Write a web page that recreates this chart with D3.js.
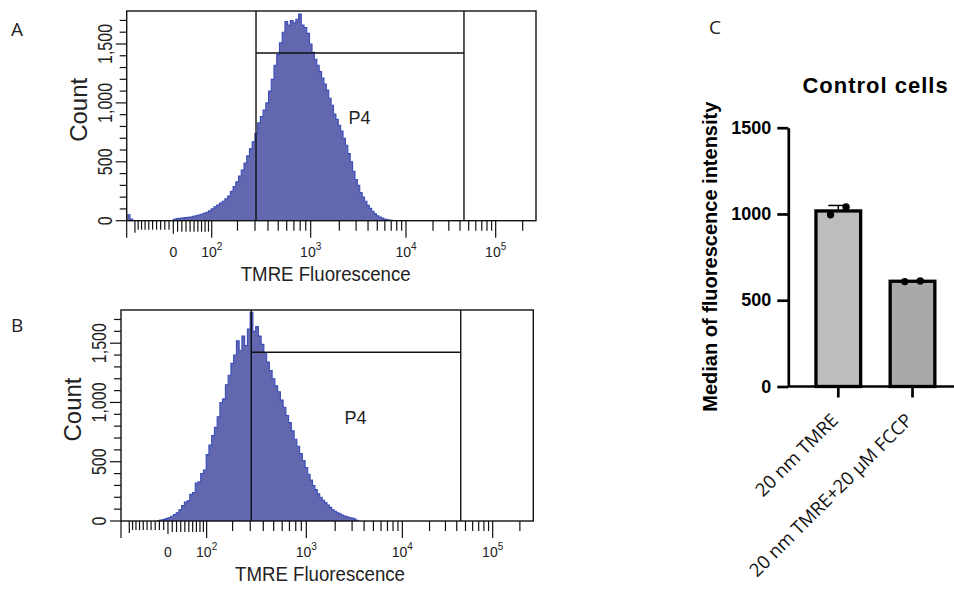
<!DOCTYPE html>
<html><head><meta charset="utf-8">
<script src="https://cdn.jsdelivr.net/npm/d3@7"></script>
<style>
body{margin:0;background:#fff;}
svg{display:block;}
</style></head><body>
<svg id="c" width="954" height="589"></svg>
<script>
// ---------------- DATA ----------------
// Histograms: counts per bin, bins evenly spaced in display (biexponential) units
const histStep = 0.025;          // display decades per bin
const histAStart = -0.425;       // display units of first bin (panel A)
const histACounts = [50,15,0,0,0,0,0,0,0,0,0,0,0,0,0,0,0,
  12,18,20,22,26,28,32,38,42,48,55,62,72,85,100,118,133,150,165,185,
  210,250,290,330,380,430,490,550,610,670,740,830,885,940,1000,1100,1200,1320,1410,1510,
  1600,1690,1660,1700,1680,1710,1755,1660,1640,1590,1500,1430,1370,1320,1265,1210,1160,1110,
  1040,980,905,860,810,760,700,640,570,500,420,350,300,240,200,165,130,105,80,58,42,30,22,15,10,6,3];
const histBStart = -0.1;         // display units of first bin (panel B)
const histBCounts = [3,8,12,20,28,40,55,70,95,130,160,170,225,240,320,330,400,430,560,640,720,790,
  880,1000,1030,1150,1230,1330,1400,1520,1440,1560,1480,1620,1760,1600,1640,1560,1490,1420,1340,1270,
  1200,1140,1090,1020,960,890,830,760,690,630,570,510,450,395,345,300,265,230,200,175,155,135,115,95,
  82,70,60,50,42,35,30,25,18,6];
const countMax = 1780;
const countMajorTicks = [0, 500, 1000, 1500];
const countMinorStep = 100;
const fluoAnchors = [0, 100, 1000, 10000, 100000];       // values with labels
const fluoAnchorLabels = [["0",""],["10","2"],["10","3"],["10","4"],["10","5"]];
const gate = {low: 307, high: 44300, count: 1424, name: "P4"};
const gateLabelAt = {value: 2500, count: 820};
const histXLabel = "TMRE Fluorescence";
const histYLabel = "Count";

// Bar chart (panel C)
const barCats = ["20 nm TMRE", "20 nm TMRE+20 μM FCCP"];
const barReps = [[995, 1040], [608, 612]];
const barTicks = [0, 500, 1000, 1500];
const barTitle = "Control cells";
const barYLabel = "Median of fluorescence intensity";
const barFills = ["#bdbdbd", "#a9a9aa"];

// ---------------- DRAW ----------------
const svg = d3.select("#c");
const FACS_FONT = "'Liberation Sans', Arial, sans-serif";
const asinhC = 110;
const disp = v => Math.asinh(v / asinhC) / Math.LN10;
const anchorFrac = [0.1139, 0.2077, 0.4495, 0.6824, 0.9015];

function histPanel(p, start, counts, id) {
  const g = svg.append("g").attr("transform", `translate(${p.left},${p.top})`);
  const x = d3.scaleLinear().domain(fluoAnchors.map(disp)).range(anchorFrac.map(f => f * p.w));
  const y = d3.scaleLinear().domain([0, countMax]).range([p.h, 0]);

  g.append("clipPath").attr("id", id).append("rect").attr("width", p.w).attr("height", p.h);

  const pts = counts.map((c, i) => ({t: start + i * histStep, c}));
  pts.push({t: start + counts.length * histStep, c: 0});
  const area = d3.area().curve(d3.curveStepAfter).x(d => x(d.t)).y0(y(0)).y1(d => y(d.c));
  const line = d3.line().curve(d3.curveStepAfter).x(d => x(d.t)).y(d => y(d.c));
  const hg = g.append("g").attr("clip-path", `url(#${id})`);
  hg.append("path").datum(pts).attr("d", area).attr("fill", "#6267af");
  hg.append("path").datum(pts).attr("d", line).attr("fill", "none")
    .attr("stroke", "#3a4cba").attr("stroke-width", 1.1);

  // gate
  const gx0 = x(disp(gate.low)), gx1 = x(disp(gate.high)), gy = y(gate.count);
  const gg = g.append("g").attr("stroke", "#111").attr("stroke-width", 1.4);
  gg.append("line").attr("x1", gx0).attr("x2", gx0).attr("y1", 0).attr("y2", p.h);
  gg.append("line").attr("x1", gx1).attr("x2", gx1).attr("y1", 0).attr("y2", p.h);
  gg.append("line").attr("x1", gx0).attr("x2", gx1).attr("y1", gy).attr("y2", gy);
  g.append("text").attr("x", x(disp(gateLabelAt.value))).attr("y", y(gateLabelAt.count))
    .attr("font-family", FACS_FONT).attr("font-size", 18).attr("fill", "#222").text(gate.name);

  // frame
  g.append("rect").attr("width", p.w).attr("height", p.h).attr("fill", "none")
    .attr("stroke", "#111").attr("stroke-width", 1.4);

  // x ticks
  const tk = [];
  d3.range(-100, 0, 10).forEach(v => tk.push({v, len: v === -100 ? 12 : 9}));
  d3.range(10, 100, 10).forEach(v => tk.push({v, len: 11}));
  tk.push({v: 0, len: 13});
  [100, 1000, 10000, 100000].forEach(d => {
    tk.push({v: d, len: 17});
    d3.range(2, 10).forEach(k => { if (k * d <= 200000) tk.push({v: k * d, len: 10}); });
  });
  const tg = g.append("g").attr("stroke", "#111").attr("stroke-width", 1.2);
  tg.selectAll("line.t").data(tk.filter(d => x(disp(d.v)) >= 0 && x(disp(d.v)) <= p.w)).join("line")
    .attr("x1", d => x(disp(d.v))).attr("x2", d => x(disp(d.v)))
    .attr("y1", p.h).attr("y2", d => p.h + d.len);
  tg.append("line").attr("x1", 0).attr("x2", 0).attr("y1", p.h).attr("y2", p.h + 17);

  const xl = g.append("g").attr("font-family", FACS_FONT).attr("fill", "#222").attr("text-anchor", "middle");
  fluoAnchors.forEach((v, i) => {
    const t = xl.append("text").attr("x", x(disp(v))).attr("y", p.h + 36).attr("font-size", 14);
    t.append("tspan").text(fluoAnchorLabels[i][0]);
    if (fluoAnchorLabels[i][1]) t.append("tspan").attr("font-size", 10).attr("dy", -7).text(fluoAnchorLabels[i][1]);
  });
  g.append("text").attr("x", 199).attr("y", p.h + 60).attr("text-anchor", "middle")
    .attr("font-family", FACS_FONT).attr("font-size", 20).attr("fill", "#222")
    .attr("textLength", 170).attr("lengthAdjust", "spacingAndGlyphs").text(histXLabel);

  // y ticks
  const yg = g.append("g").attr("stroke", "#111").attr("stroke-width", 1.2);
  yg.selectAll("line").data(d3.range(0, countMax, countMinorStep)).join("line")
    .attr("x1", d => countMajorTicks.includes(d) ? -11 : -7).attr("x2", 0)
    .attr("y1", d => y(d)).attr("y2", d => y(d));
  const fmt = d3.format(",");
  g.append("g").selectAll("text").data(countMajorTicks).join("text")
    .attr("transform", d => `translate(-15,${y(d)}) rotate(-90) scale(0.8,1)`)
    .attr("text-anchor", "middle").attr("font-family", FACS_FONT).attr("font-size", 20)
    .attr("fill", "#222").text(fmt);
  g.append("text").attr("transform", `translate(-40,${p.h / 2 - 6}) rotate(-90)`)
    .attr("text-anchor", "middle").attr("font-family", FACS_FONT).attr("font-size", 24)
    .attr("fill", "#222").text(histYLabel);
}

histPanel({left: 126.7, top: 11, w: 409.3, h: 209.7}, histAStart, histACounts, "clipA");
histPanel({left: 121, top: 310, w: 412.3, h: 211}, histBStart, histBCounts, "clipB");

// Panel letters
const LBL_FONT = "'Open Sans', Arial, sans-serif";
[["A", 11, 36], ["B", 11, 332], ["C", 709, 34]].forEach(([t, lx, ly]) =>
  svg.append("text").attr("x", lx).attr("y", ly).attr("font-family", LBL_FONT)
    .attr("font-size", 19).attr("fill", "#222").text(t));

// ---------- Panel C ----------
const yC = d3.scaleLinear().domain([0, 1500]).range([386.5, 127.7]);
const xC = d3.scalePoint().domain(barCats).range([838.3, 912.5]);
const barW = 44.7;
const cg = svg.append("g").attr("font-family", "'Liberation Sans', Arial, sans-serif");
const means = barReps.map(d => d3.mean(d));
const sds = barReps.map(d => d3.deviation(d));

cg.selectAll("rect.bar").data(barCats).join("rect")
  .attr("x", d => xC(d) - barW / 2).attr("width", barW)
  .attr("y", (d, i) => yC(means[i])).attr("height", (d, i) => yC(0) - yC(means[i]))
  .attr("fill", (d, i) => barFills[i]).attr("stroke", "#000").attr("stroke-width", 3.3);

barCats.forEach((c, i) => {
  const top = yC(means[i] + sds[i]);
  if (yC(means[i]) - top > 3) {
    cg.append("line").attr("x1", xC(c)).attr("x2", xC(c)).attr("y1", yC(means[i])).attr("y2", top)
      .attr("stroke", "#000").attr("stroke-width", 1.5);
    cg.append("line").attr("x1", xC(c) - 10).attr("x2", xC(c) + 10).attr("y1", top).attr("y2", top)
      .attr("stroke", "#000").attr("stroke-width", 1.5);
  }
  cg.selectAll(null).data(barReps[i]).join("circle")
    .attr("cx", (v, j) => xC(c) + (j - 0.5) * 15.5).attr("cy", v => yC(v)).attr("r", 3.7).attr("fill", "#000");
});

const yAx = cg.append("g").attr("transform", "translate(788.3,0)")
  .call(d3.axisLeft(yC).tickValues(barTicks).tickFormat(d3.format("d")).tickSize(11).tickSizeOuter(0).tickPadding(6));
yAx.select(".domain").attr("stroke-width", 2.7).attr("stroke", "#000");
yAx.selectAll(".tick line").attr("stroke-width", 2.7).attr("stroke", "#000");
yAx.selectAll(".tick text").attr("font-size", 18).attr("font-weight", "bold").attr("fill", "#000")
  .attr("font-family", "'Liberation Sans', Arial, sans-serif");

cg.append("line").attr("x1", 788.3).attr("x2", 954).attr("y1", yC(0)).attr("y2", yC(0))
  .attr("stroke", "#000").attr("stroke-width", 2.7);
cg.selectAll("line.xt").data(barCats).join("line")
  .attr("x1", d => xC(d)).attr("x2", d => xC(d)).attr("y1", yC(0)).attr("y2", yC(0) + 11)
  .attr("stroke", "#000").attr("stroke-width", 2.7);
cg.selectAll("text.xl").data(barCats).join("text")
  .attr("transform", d => `translate(${xC(d) + 1},${yC(0) + 35}) rotate(-45)`)
  .attr("text-anchor", "end").attr("font-family", LBL_FONT).attr("font-size", 18.5)
  .attr("fill", "#111").text(d => d);

cg.append("text").attr("x", 875.5).attr("y", 93).attr("text-anchor", "middle")
  .attr("font-size", 22).attr("font-weight", "bold").attr("letter-spacing", 1).attr("fill", "#000").text(barTitle);
cg.append("text").attr("transform", "translate(717,256.7) rotate(-90)").attr("text-anchor", "middle")
  .attr("font-size", 20).attr("font-weight", "bold").attr("fill", "#000").text(barYLabel);
</script>
</body></html>
